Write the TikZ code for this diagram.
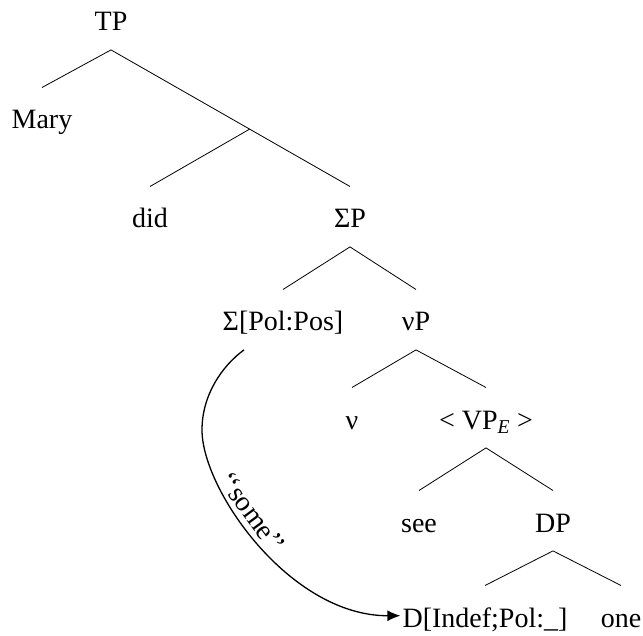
\documentclass[tikz,border=0pt]{standalone}
\usepackage{fontspec}
\setmainfont{Liberation Serif}
\usetikzlibrary{arrows.meta,calc}
\begin{document}
\begin{tikzpicture}[x=1pt,y=-1pt,
  lab/.style={anchor=base, font=\fontsize{28}{32}\selectfont, text height=29.6pt, text depth=7pt, inner ysep=11.7pt, inner xsep=2pt},
  branch/.style={line width=0.8pt},
  arr/.style={line width=1.3pt, -{Latex[length=13pt,width=11pt]}},
  curvelab/.style={font=\fontsize{28}{32}\selectfont, inner sep=5pt}]
\useasboundingbox (0,0) rectangle (643,636);
\node[lab] (TP) at (111,31) {TP};
\node[lab] (Mary) at (42,129) {Mary};
\node[lab] (did) at (150,228) {did};
\node[lab] (SP) at (350,228) {ΣP};
\node[lab] (SPol) at (283,331) {Σ[Pol:Pos]};
\node[lab] (vP) at (416,331) {νP};
\node[lab] (v) at (352,429) {ν};
\node[lab] (VPE) at (486,429) {< VP\textsubscript{\textit{E}} >};
\node[lab] (see) at (419,532) {see};
\node[lab] (DP) at (553,532) {DP};
\node[lab] (D) at (485,627) {D[Indef;Pol:\_]};
\node[lab] (one) at (621,627) {one};

\draw[branch] (TP.south) -- (Mary.north);
\draw[branch] (TP.south) -- coordinate[pos=0.58] (j) (SP.north);
\draw[branch] (j) -- (did.north);
\draw[branch] (SP.south) -- (SPol.north);
\draw[branch] (SP.south) -- (vP.north);
\draw[branch] (vP.south) -- (v.north);
\draw[branch] (vP.south) -- (VPE.north);
\draw[branch] (VPE.south) -- (see.north);
\draw[branch] (VPE.south) -- (DP.north);
\draw[branch] (DP.south) -- (D.north);
\draw[branch] (DP.south) -- (one.north);

\draw[arr] ($(SPol.south)+(-39,0)$) .. controls (222,366) and (202,395) .. (202,430)
  .. controls (202,490) and (290,616) .. (D.west)
  node[pos=0.4, sloped, above, curvelab] {{‘}{‘}some{’}{’}};
\end{tikzpicture}
\end{document}
